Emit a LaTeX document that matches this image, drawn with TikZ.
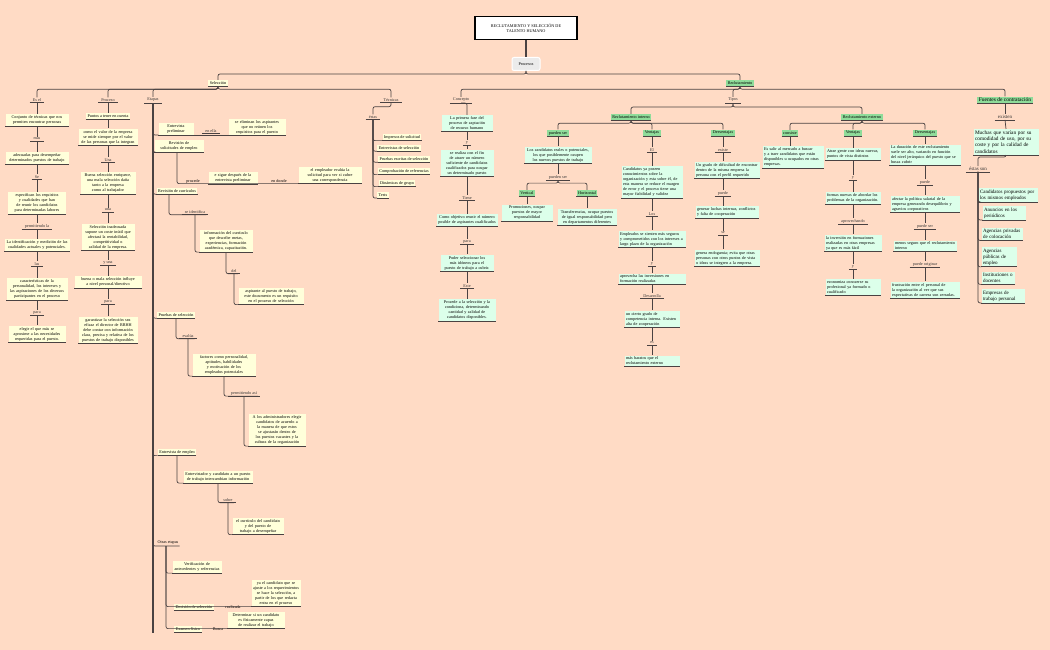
\documentclass[tikz,border=0pt]{standalone}
\usepackage{fontspec}
\setmainfont{Liberation Serif}
\definecolor{bg}{HTML}{FFDBC5}
\definecolor{yb}{HTML}{FFFFDA}
\definecolor{gb}{HTML}{DCFFEA}
\definecolor{gh}{HTML}{8FDC9A}
\definecolor{ln}{HTML}{4A4242}
\tikzset{
  every node/.append style={execute at begin node={\hyphenpenalty=10000\exhyphenpenalty=10000}},
  bot/.style={append after command={(\tikzlastnode.south west) edge[draw=ln,line width=0.8pt] (\tikzlastnode.south east)}},
  yb/.style={fill=yb,bot,inner sep=1.5pt,align=center,font=\fontsize{4.2}{5}\selectfont,text width=#1},
  yb/.default=40pt,
  gb/.style={fill=gb,bot,inner sep=1.5pt,align=center,font=\fontsize{4.2}{5}\selectfont,text width=#1},
  gb/.default=40pt,
  gh/.style={fill=gh,bot,inner sep=1.5pt,font=\fontsize{4.2}{5}\selectfont},
  ys/.style={fill=yb,bot,inner sep=1.5pt,font=\fontsize{4.2}{5}\selectfont},
  lbl/.style={inner sep=1pt,font=\fontsize{4.2}{5}\selectfont,text=black!80,append after command={([xshift=-2pt]\tikzlastnode.south west) edge[draw=ln,line width=0.7pt] ([xshift=2pt]\tikzlastnode.south east)}},
  conn/.style={draw=ln,line width=0.7pt,rounded corners=2pt},
}
\begin{document}
\begin{tikzpicture}[x=1pt,y=-1pt]
\fill[bg] (0,0) rectangle (1050,650);
\useasboundingbox (0,0) rectangle (1050,650);
% top
\node[draw=black,line width=1.3pt,fill=white,minimum width=102pt,minimum height=23pt,align=center,font=\fontsize{4.2}{5}\selectfont] (title) at (526,28) {RECLUTAMIENTO Y SELECCIÓN DE\\TALENTO HUMANO};
\node[draw=white,line width=1pt,rounded corners=2pt,fill=black!8,minimum width=28pt,minimum height=13pt,font=\fontsize{4.2}{5}\selectfont] (proc) at (526,64) {Procesos};
\draw[conn,line width=1.2pt] (title.south) -- (proc.north);
\node[ys] (sel) at (218,83) {Selección};
\node[gh] (rec) at (740,83) {Reclutamiento};
\draw[conn] (proc.south) -- ++(0,3) -| (sel.north);
\draw[conn] (proc.south) -- ++(0,3) -| (rec.north);
% seleccion children
\node[lbl] (esel) at (37,100) {Es el};
\node[lbl] (proceso) at (108,100) {Proceso};
\node[lbl] (etapas) at (153,100) {Etapas};
\node[lbl] (tec) at (391,100) {Técnicas};
\foreach \c in {esel,proceso,etapas,tec} \draw[conn] (sel.south) -- ++(0,3) -| (\c.north);
% rec children
\node[lbl] (conc) at (461,100) {Concepto};
\node[lbl] (tipos) at (733,100) {Tipos};
\node[gh,font=\fontsize{5.5}{6.5}\selectfont] (fuen) at (1005,100) {Fuentes de contratación};
\foreach \c in {conc,tipos,fuen} \draw[conn] (rec.south) -- ++(0,3) -| (\c.north);

% Es el column
\node[yb=60pt] (a1) at (37,120) {Conjunto de técnicas que nos permiten encontrar personas};
\node[lbl] (a2) at (37,139) {mas};
\node[yb=60pt] (a3) at (37,158) {adecuadas para desempeñar determinados puestos de trabajo};
\node[lbl] (a4) at (37,177) {Se};
\node[yb=55pt] (a5) at (37,203) {especifican los requisitos y cualidades que han de reunir los candidatos para determinadas labores};
\node[lbl] (a6) at (37,226) {permitiendo la};
\node[yb=62pt] (a7) at (37,245) {La identificación y medición de las cualidades actuales y potenciales.};
\node[lbl] (a8) at (37,264) {las};
\node[yb=58pt] (a9) at (37,289) {características de la personalidad, los intereses y las aspiraciones de los diversos participantes en el proceso};
\node[lbl] (a10) at (37,313) {para};
\node[yb=54pt] (a11) at (37,334) {elegir el que más se aproxime a las necesidades requeridas para el puesto.};
\draw[conn] (esel.south) -- (a1.north);
\foreach \p/\c in {a1/a2,a2/a3,a3/a4,a4/a5,a5/a6,a6/a7,a7/a8,a8/a9,a9/a10,a10/a11} \draw[conn] (\p.south) -- (\c.north);

% Proceso column
\node[ys] (b1) at (108,116) {Puntos a tener en cuenta};
\node[yb=56pt] (b2) at (108,137) {como el valor de la empresa se mide siempre por el valor de las personas que la integran};
\node[lbl] (b3) at (108,160) {Una};
\node[yb=52pt] (b4) at (108,183) {Buena selección enriquece, una mala selección daña tanto a la empresa como al trabajador};
\node[lbl] (b5) at (108,210) {una};
\node[yb=50pt] (b6) at (108,237) {Selección inadecuada supone un coste inútil que afectará la rentabilidad, competitividad o calidad de la empresa.};
\node[lbl] (b7) at (108,263) {y una};
\node[yb=64pt] (b8) at (108,282) {buena o mala selección influye a nivel personal/directivo};
\node[lbl] (b9) at (108,302) {para};
\node[yb=56pt] (b10) at (108,330) {garantizar la selección sea eficaz el director de RRHH debe contar con información clara, precisa y relativa de los puestos de trabajo disponibles};
\draw[conn] (proceso.south) -- (b1.north);
\foreach \p/\c in {b1/b2,b2/b3,b3/b4,b4/b5,b5/b6,b6/b7,b7/b8,b8/b9,b9/b10} \draw[conn] (\p.south) -- (\c.north);

% Etapas
\node[yb=32pt] (e1) at (176,129) {Entrevista preliminar};
\node[lbl] (e1l) at (211,131) {en ella};
\node[yb=54pt] (e1b) at (257,127) {se eliminan los aspirantes que no reúnen los requisitos para el puesto};
\draw[conn,line width=1.4pt] (etapas.south) -- (153,633);
\draw[conn] (etapas.south) |- (e1.south west);
\draw[conn] (e1.south east) -- (e1.south east -| e1b.south east);
\node[yb=46pt] (e2) at (179,146) {Revisión de solicitudes de empleo};
\draw[conn] (etapas.south) |- (e2.south west);
\node[inner sep=1pt,font=\fontsize{4.2}{5}\selectfont] (e2l) at (193,181) {procede};
\node[yb=46pt] (e2b) at (233,178) {e sigue después de la entrevista preliminar};
\node[inner sep=1pt,font=\fontsize{4.2}{5}\selectfont] (e2m) at (279,181) {en donde};
\node[yb=60pt] (e2c) at (330,175) {el empleador evalúa la solicitud para ver si cubre una correspondencia};
\draw[conn] ([xshift=-2pt]e2.south) |- (e2c.south east);
\node[ys] (e3) at (177,191) {Revisión de currículos};
\draw[conn] (etapas.south) |- (e3.south west);
\node[lbl] (e3l) at (195,212) {se identifica};
\draw[conn] (e3.south) ++(-8,0) |- (e3l.south east);
\node[yb=50pt] (e3b) at (226,241) {información del currículo que describe metas, experiencias, formación académica, capacitación.};
\draw[conn] (e3l.south) |- (e3b.south west);
\node[lbl] (e3c) at (234,271) {del};
\draw[conn] (e3b.south) |- (e3c.south east);
\node[yb=62pt] (e3d) at (271,296) {aspirante al puesto de trabajo, este documento es un requisito en el proceso de selección};
\draw[conn] (e3c.south) |- (e3d.south west);
\node[ys] (e4) at (176,315) {Pruebas de selección};
\draw[conn] (etapas.south) |- (e4.south west);
\node[lbl] (e4l) at (188,336) {evalúa};
\draw[conn] (e4.south) |- (e4l.south east);
\node[yb=60pt] (e4b) at (224,365) {factores como personalidad, aptitudes, habilidades y motivación de los empleados potenciales};
\draw[conn] (e4l.south) |- (e4b.south west);
\node[lbl] (e4c) at (244,393) {permitiendo así};
\draw[conn] (e4b.south) |- (e4c.south east);
\node[yb=54pt] (e4d) at (277,430) {A los administradores elegir candidatos de acuerdo a la manera de que estos se ajustarán dentro de los puestos vacantes y la cultura de la organización};
\draw[conn] (e4c.south) |- (e4d.south west);
\node[ys] (e5) at (177,452) {Entrevista de empleo};
\draw[conn] (etapas.south) |- (e5.south west);
\node[yb=66pt] (e5b) at (218,477) {Entrevistador y candidato a un puesto de trabajo intercambian información};
\draw[conn] (e5.south) |- (e5b.south west);
\node[lbl] (e5c) at (228,500) {sobre};
\draw[conn] (e5b.south) |- (e5c.south east);
\node[yb=48pt] (e5d) at (258,526) {el currículo del candidato y del puesto de trabajo a desempeñar};
\draw[conn] (e5c.south) |- (e5d.south west);
\node[inner sep=1pt,font=\fontsize{4.2}{5}\selectfont] (e6) at (168,543) {Otras etapas};
\draw[conn] (etapas.south) |- (e6.south east);
\node[yb=46pt] (e6a) at (197,567) {Verificación de antecedentes y referencias};
\node[ys] (e6b) at (194,607) {Decisión de selección};
\node[inner sep=1pt,font=\fontsize{4.2}{5}\selectfont] (e6bl) at (233,607) {realizada};
\node[yb=46pt] (e6bb) at (276,593) {ya el candidato que se ajuste a los requerimientos se hace la selección, a partir de los que redacta entra en el proceso};
\node[ys] (e6c) at (188,629) {Examen físico};
\node[inner sep=1pt,font=\fontsize{4.2}{5}\selectfont] (e6cl) at (218,629) {Busca};
\node[yb=54pt] (e6cc) at (256,620) {Determinar si un candidato es físicamente capaz de realizar el trabajo};
\draw[conn] (e6.south) ++(-2,0) |- (e6a.south west);
\draw[conn] (e6.south) ++(-2,0) |- (e6bb.south east);
\draw[conn] (e6.south) ++(-2,0) |- (e6cc.south east);

% Tecnicas
\node[lbl] (t0) at (373,117) {éstas};
\draw[conn] (tec.south) -- ++(0,4) -| (t0.north);
\node[ys] (t1) at (402,137) {Impresos de solicitud};
\node[ys] (t2) at (399,148) {Entrevistas de selección};
\node[ys] (t3) at (404,159) {Pruebas escritas de selección};
\node[ys] (t4) at (404,171) {Comprobación de referencias};
\node[ys] (t5) at (397,183) {Dinámicas de grupo};
\node[ys] (t6) at (383,195) {Tests};
\foreach \c in {t1,t2,t3,t4,t5,t6} \draw[conn] (t0.south) |- (\c.south west);

% Concepto column
\node[gb=48pt] (c1) at (467,123) {La primera fase del proceso de captación de recurso humano};
\node[lbl] (c2) at (467,143) {y};
\node[gb=50pt] (c3) at (467,163) {se realiza con el fin de atraer un número suficiente de candidatos cualificados para ocupar un determinado puesto};
\node[lbl] (c4) at (467,198) {Tiene};
\node[gb=58pt] (c5) at (467,220) {Como objetivo reunir el número posible de aspirantes cualificados};
\node[lbl] (c6) at (467,242) {para};
\node[gb=50pt] (c7) at (467,263) {Poder seleccionar los más idóneos para el puesto de trabajo a cubrir.};
\node[lbl] (c8) at (467,286) {Este};
\node[gb=54pt] (c9) at (467,310) {Procede a la selección y la condiciona, determinando cantidad y calidad de candidatos disponibles.};
\draw[conn] (conc.south) -| (c1.north);
\foreach \p/\c in {c1/c2,c2/c3,c3/c4,c4/c5,c5/c6,c6/c7,c7/c8,c8/c9} \draw[conn] (\p.south) -- (\c.north);

% Tipos
\node[gh] (ri) at (631,117) {Reclutamiento interno};
\node[gh] (re) at (862,117) {Reclutamiento externo};
\draw[conn] (tipos.south) -- ++(0,4) -| (ri.north);
\draw[conn] (tipos.south) -- ++(0,4) -| (re.north);
\node[gh] (i1) at (558,133) {pueden ser};
\node[gh] (i2) at (652,133) {Ventajas};
\node[gh] (i3) at (723,133) {Desventajas};
\foreach \c in {i1,i2,i3} \draw[conn] (ri.south) -- ++(0,3) -| (\c.north);
\node[gb=64pt] (p1) at (558,155) {Los candidatos reales o potenciales, los que posiblemente ocupen los nuevos puestos de trabajo};
\node[lbl] (p2) at (558,177) {pueden ser};
\node[gh] (pv) at (527,193) {Vertical};
\node[gh] (ph) at (587,193) {Horizontal};
\node[gb=48pt] (pv1) at (527,213) {Promociones, ocupar puestos de mayor responsabilidad};
\node[gb=56pt] (ph1) at (587,217) {Transferencias, ocupar puestos de igual responsabilidad pero en departamentos diferentes};
\draw[conn] (i1.south) -- (p1.north);
\draw[conn] (p1.south) -- (p2.north);
\draw[conn] (p2.south) -- ++(0,3) -| (pv.north);
\draw[conn] (p2.south) -- ++(0,3) -| (ph.north);
\draw[conn] (pv.south) -- (pv1.north);
\draw[conn] (ph.south) -- (ph1.north);
% ventajas interno
\node[lbl] (v1) at (652,150) {El};
\node[gb=58pt,align=left] (v2) at (652,182) {Candidatos ya poseen conocimientos sobre la organización y esta sobre él, de esta manera se reduce el margen de error y el proceso tiene una mayor fiabilidad y validez};
\node[lbl] (v3) at (652,214) {Los};
\node[gb=64pt,align=left] (v4) at (652,239) {Empleados se sienten más seguros y comprometidos con los intereses a largo plazo de la organización};
\node[lbl] (v5) at (652,264) {y};
\node[gb=64pt,align=left] (v6) at (652,279) {aprovecha las inversiones en formación realizadas};
\node[lbl] (v7) at (652,296) {Desarrolla};
\node[gb=52pt,align=left] (v8) at (652,319) {un cierto grado de competencia interna. Existen alta de cooperación};
\node[lbl] (v9) at (652,343) {es};
\node[gb=52pt,align=left] (v10) at (652,361) {más baratos que el reclutamiento externo};
\draw[conn] (i2.south) -- (v1.north);
\foreach \p/\c in {v1/v2,v2/v3,v3/v4,v4/v5,v5/v6,v6/v7,v7/v8,v8/v9,v9/v10} \draw[conn] (\p.south) -- (\c.north);
% desventajas interno
\node[lbl] (d1) at (723,150) {existe};
\node[gb=62pt,align=left] (d2) at (727,170) {Un grado de dificultad de encontrar dentro de la misma empresa la persona con el perfil requerido};
\node[lbl] (d3) at (723,193) {puede};
\node[gb=60pt,align=left] (d4) at (727,212) {generar luchas internas, conflictos y falta de cooperación};
\node[lbl] (d5) at (723,233) {se};
\node[gb=62pt,align=left] (d6) at (727,258) {genera endogamia; evita que otras personas con otros puntos de vista o ideas se integren a la empresa.};
\draw[conn] (i3.south) -- (d1.north);
\foreach \p/\c in {d1/d2,d3/d4,d5/d6} \draw[conn] (\p.south) -- (\p.south |- \c.north);
\foreach \p/\c in {d2/d3,d4/d5} \draw[conn] (\c.north |- \p.south) -- (\c.north);
% externo
\node[gh] (x1) at (790,133) {consiste};
\node[gh] (x2) at (853,133) {Ventajas};
\node[gh] (x3) at (925,133) {Desventajas};
\foreach \c in {x1,x2,x3} \draw[conn] (re.south) -- ++(0,3) -| (\c.north);
\node[gb=58pt,align=left] (x1a) at (793,157) {Es salir al mercado a buscar y a traer candidatos que están disponibles u ocupados en otras empresas.};
\draw[conn] (x1.south) -- (x1.south |- x1a.north);
\node[gb=52pt,align=left] (y1) at (853,154) {Atrae gente con ideas nuevas, puntos de vista distintos};
\node[lbl] (y2) at (853,178) {y};
\node[gb=52pt,align=left] (y3) at (853,198) {formas nuevas de abordar los problemas de la organización.};
\node[lbl] (y4) at (853,221) {aprovechando};
\node[gb=54pt,align=left] (y5) at (853,243) {la inversión en formaciones realizadas en otras empresas ya que es más fácil};
\node[lbl] (y6) at (853,267) {y};
\node[gb=52pt,align=left] (y7) at (853,287) {economiza conocerse su profesional ya formado o cualificado};
\draw[conn] (x2.south) -- (y1.north);
\foreach \p/\c in {y1/y2,y2/y3,y3/y4,y4/y5,y5/y6,y6/y7} \draw[conn] (\p.south) -- (\c.north);
\node[gb=68pt,align=left] (z1) at (925,155) {La duración de este reclutamiento suele ser alto, variando en función del nivel jerárquico del puesto que se busca cubrir};
\node[lbl] (z2) at (925,182) {puede};
\node[gb=66pt,align=left] (z3) at (925,204) {afectar la política salarial de la empresa generando desequilibrio y agravios corporativos};
\node[lbl] (z4) at (925,226) {puede ser};
\node[gb=60pt,align=left] (z5) at (925,246) {menos seguro que el reclutamiento interno};
\node[lbl] (z6) at (925,264) {puede originar};
\node[gb=66pt,align=left] (z7) at (925,290) {frustración entre el personal de la organización al ver que sus expectativas de carrera son cerradas.};
\draw[conn] (x3.south) -- (z1.north);
\foreach \p/\c in {z1/z2,z2/z3,z3/z4,z4/z5,z5/z6,z6/z7} \draw[conn] (\p.south) -- (\c.north);

% Fuentes
\node[lbl,font=\fontsize{5}{6}\selectfont] (f1) at (1005,117) {existen};
\node[gb=62pt,align=left,font=\fontsize{5.3}{6.3}\selectfont] (f2) at (1006,142) {Muchas que varían por su comodidad de uso, por su coste y por la calidad de candidatos};
\node[lbl,font=\fontsize{5}{6}\selectfont] (f3) at (978,169) {éstas son};
\draw[conn] (fuen.south) -- (f1.north);
\draw[conn] (f1.south) -- (f2.north);
\draw[conn] (f2.south) -- ++(0,2) -| (f3.north);
\tikzset{fb/.style={gb=#1,align=left,font=\fontsize{5}{6}\selectfont}}
\node[fb=56pt] (g1) at (1008,195) {Candidatos propuestos por los mismos empleados};
\node[fb=40pt] (g2) at (1004,213) {Anuncios en los periódicos};
\node[fb=38pt] (g3) at (1002,234) {Agencias privadas de colocación};
\node[fb=32pt] (g4) at (999,257) {Agencias públicas de empleo};
\node[fb=30pt] (g5) at (998,278) {Instituciones o docentes};
\node[fb=40pt] (g6) at (1003,296) {Empresas de trabajo personal};
\foreach \c in {g1,g2,g3,g4,g5,g6} \draw[conn] (f3.south) |- (\c.south west);
\end{tikzpicture}
\end{document}
